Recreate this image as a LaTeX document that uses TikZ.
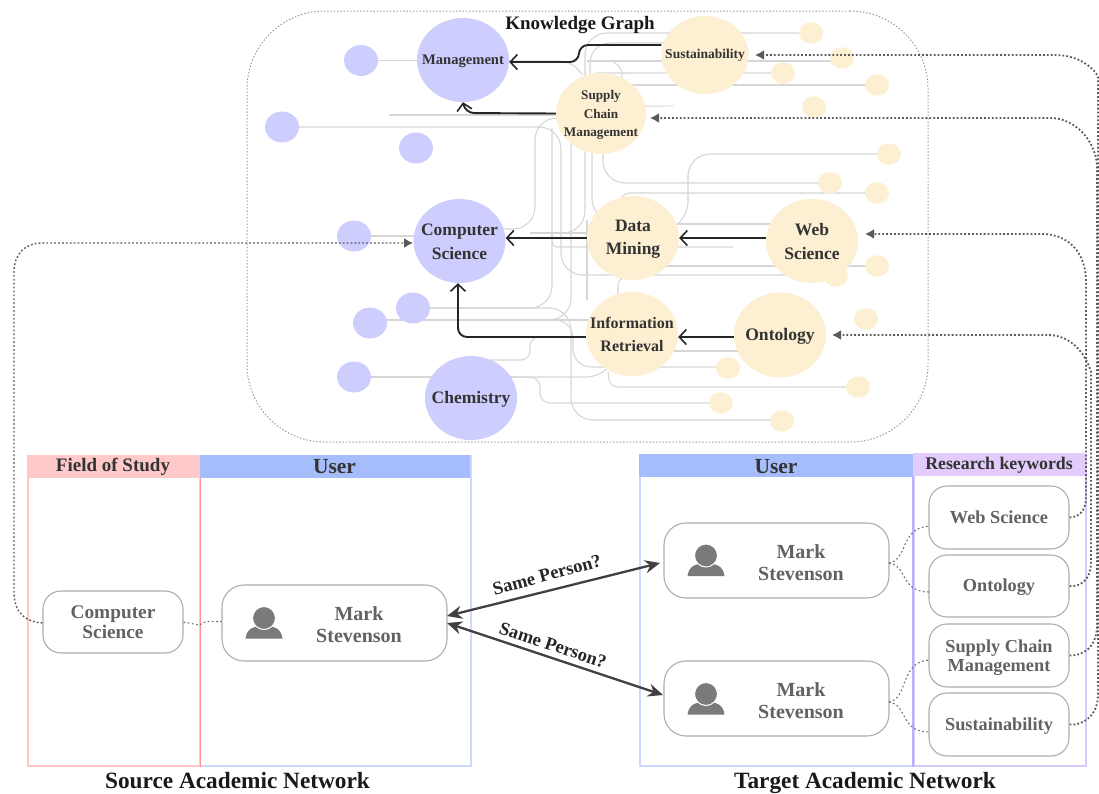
\documentclass[tikz,border=0pt]{standalone}
\usepackage{fontspec}
\setmainfont{Liberation Serif}
\usetikzlibrary{shapes.geometric,arrows.meta,calc}
\pgfdeclarelayer{bg}
\pgfsetlayers{bg,main}
\definecolor{purp}{HTML}{CDCEFD}
\definecolor{yel}{HTML}{FDEFD2}
\definecolor{wirec}{HTML}{D6D6D6}
\definecolor{txt}{HTML}{333333}
\definecolor{gtxt}{HTML}{626262}
\definecolor{dotc}{HTML}{5A5A5A}
\definecolor{hblue}{HTML}{A6BDFB}
\definecolor{bblue}{HTML}{CCD8FF}
\definecolor{hviol}{HTML}{E3CCFB}
\definecolor{bviol}{HTML}{D9C9FB}
\definecolor{hred}{HTML}{FFC9C9}
\definecolor{bred}{HTML}{FFC4C4}
\newcommand{\fsz}[2]{\fontsize{#1}{#2}\selectfont\bfseries}
\newcommand{\dn}[2]{\raisebox{-#1pt}[0pt][0pt]{#2}}
\tikzset{
  bigp/.style={ellipse,fill=purp,inner sep=0pt,minimum width=92pt,minimum height=84pt},
  bigy/.style={ellipse,fill=yel,inner sep=0pt,minimum width=92pt,minimum height=84pt},
  bigt/.style={inner sep=0pt,align=center,text=txt},
  smallp/.style={ellipse,fill=purp,inner sep=0pt,minimum width=34pt,minimum height=31pt},
  smally/.style={ellipse,fill=yel,inner sep=0pt,minimum width=24pt,minimum height=21.5pt},
  wire/.style={draw=wirec,line width=1.1pt,rounded corners=22pt},
  karrow/.style={draw=black!85,line width=1.9pt,rounded corners=9pt,-{Straight Barb[length=7pt,width=15pt,line width=1.6pt]}},
  dotarrow/.style={draw=dotc,line width=1.8pt,dash pattern=on 1.8pt off 2.1pt,-{Latex[length=9pt,width=10pt]}},
  thindot/.style={draw=dotc!85,line width=1.1pt,dash pattern=on 1.8pt off 2.4pt},
  rbox/.style={draw=black!32,line width=1.1pt,fill=white,rounded corners=18pt,inner sep=0pt,align=center,text=gtxt},
  column/.style={line width=1.6pt,inner sep=0pt,anchor=north west},
  head/.style={inner sep=0pt,anchor=center,text=txt},
  same/.style={draw=black!75,line width=2.3pt,{Stealth[length=15pt,width=13pt]}-{Stealth[length=15pt,width=13pt]}},
  person/.pic={
    \fill[black!52] (-18.5,20.5) -- (18.5,20.5) .. controls (17,10) and (10,8) .. (0,8) .. controls (-10,8) and (-17,10) .. (-18.5,20.5) -- cycle;
    \node[circle,fill=black!52,draw=white,line width=1pt,minimum size=23pt,inner sep=0pt] at (0,0) {};
  }
}
\begin{document}
\begin{tikzpicture}[x=1pt,y=-1pt]
\useasboundingbox (0,0) rectangle (1099,793);
% knowledge graph frame
\node[draw=black!40,line width=1pt,dash pattern=on 1.4pt off 1.9pt,rounded corners=78pt,minimum width=681pt,minimum height=431pt,inner sep=0pt] (kg) at (587.5,226.5) {};
% small nodes
\node[smallp] (p1) at (361,60.5) {};
\node[smallp] (p2) at (282,127) {};
\node[smallp] (p3) at (416,148) {};
\node[smallp] (p4) at (354,236) {};
\node[smallp] (p5) at (413,308) {};
\node[smallp] (p6) at (370,323) {};
\node[smallp] (p7) at (354,377) {};
\node[smally] (y1) at (811,33) {};
\node[smally] (y2) at (842,58) {};
\node[smally] (y3) at (783,73) {};
\node[smally] (y4) at (877,85) {};
\node[smally] (y5) at (814,107) {};
\node[smally] (y6) at (889,154) {};
\node[smally] (y7) at (830,183) {};
\node[smally] (y8) at (877,193) {};
\node[smally] (y9) at (877,266) {};
\node[smally] (y10) at (836,276) {};
\node[smally] (y11) at (866,319) {};
\node[smally] (y12) at (728,368) {};
\node[smally] (y13) at (858,387) {};
\node[smally] (y14) at (721,403) {};
\node[smally] (y15) at (782,421) {};
% big nodes
\node[bigp] (mg) at (463,60) {};
\node[bigp] (cs) at (459.5,241) {};
\node[bigp] (ch) at (471,398) {};
\node[bigy,minimum width=87pt,minimum height=78pt] (su) at (705,55) {};
\node[bigy,minimum width=90pt,minimum height=81pt] (sc) at (601,113.5) {};
\node[bigy] (dm) at (633,238) {};
\node[bigy] (ws) at (812,241) {};
\node[bigy] (ir) at (632,334) {};
\node[bigy,minimum height=85pt] (on) at (780,335) {};
\node[bigt,font=\fsz{14.6}{16}] (mgt) at (463,60.5) {\dn{4.4}{Management}};
\node[bigt,font=\fsz{17.5}{24}] (cst) at (459.5,242) {Computer\\Science};
\node[bigt,font=\fsz{17.5}{20}] (cht) at (471,398) {\dn{5.3}{Chemistry}};
\node[bigt,font=\fsz{13.5}{16}] (sut) at (705,54) {\dn{4}{Sustainability}};
\node[bigt,font=\fsz{13.2}{18.5}] (sct) at (601,115) {Supply\\Chain\\Management};
\node[bigt,font=\fsz{17.5}{23}] (dmt) at (633,239) {Data\\Mining};
\node[bigt,font=\fsz{17.5}{24}] (wst) at (812,242) {Web\\Science};
\node[bigt,font=\fsz{16}{22.5}] (irt) at (632,334.5) {Information\\Retrieval};
\node[bigt,font=\fsz{17.6}{20}] (ont) at (780,335) {\dn{5.3}{Ontology}};
\node[text=black!90,font=\fsz{19}{20}] (kgt) at (580,25) {Knowledge Graph};
\coordinate (dmend) at (733,247);
% grey wires
\begin{pgfonlayer}{bg}
\draw[wire] (p1.center) -- (mg.center |- p1.center);
\draw[wire,line width=1.5pt] (389,115) -- (sc.center |- 0,115);
\draw[wire] (p2.center) -- (561,127) -- (561,275) -- (y10.center |- 0,275);
\draw[wire] (cs.center) ++(40,-12) -- (535,229) -- (535,118) -- (sc.center |- 0,118);
\draw[wire] (p5.center) -- (552,308) -- (552,128);
\draw[wire,rounded corners=5pt] (552,232) -- (552,247) -- (dmend);
\draw[wire] (p6.center) ++(0,-3) -- (571,320) -- (571,120);
\draw[wire] (p5.center) -- (571,308) -- (571,420) -- (y15.center |- 0,420);
\draw[wire] (p6.center) ++(0,-3) -- (ir.center |- 0,320);
\draw[wire,rounded corners=18pt] (540,320) -- (573,320) -- (573,367) -- (y12.center |- 0,367);
\draw[wire] (p7.center) -- (ch.center |- p7.center);
\draw[wire,rounded corners=10pt] (ch.center) ++(0,-21) -- (597,377) -- (608,368);
\draw[wire,rounded corners=10pt] (ch.center) ++(30,-21) -- (540,377) -- (540,403) -- (y14.center);
\draw[wire,rounded corners=9pt] (490,360) -- (530,360) -- (530,337) -- (ir.center |- 0,337);
\draw[wire,rounded corners=8pt] (608,372) -- (610,387) -- (y13.center);
\draw[wire] (ir.center) ++(0,17) -- (745,351);
\draw[wire] (dm.center) ++(0,28) -- (y9.center);
\draw[wire] (p4.center) -- (cs.center |- p4.center);
\draw[wire] (dm.center) ++(-46,-5) -- (530,233);
\draw[wire] (587,220) -- (587,300);
\draw[wire,rounded corners=7pt] (618,300) -- (618,278) -- (630,278);
\draw[wire] (y1.center) -- (585,33) -- (585,233) -- (555,233);
\draw[wire,rounded corners=20pt] (su.center) ++(0,-12) -- (590,43) -- (590,90);
\draw[wire,rounded corners=16pt] (592,150) -- (592,215) -- (615,225);
\draw[wire,rounded corners=10pt] (mg.center) ++(0,1) -- (570,61) -- (583,75);
\draw[wire] (y2.center |- 0,61) -- (587,61);
\draw[wire,rounded corners=14pt] (587,61) -- (622,61) -- (622,85);
\draw[wire,rounded corners=8pt] (590,85) -- (590,73) -- (y3.center);
\draw[wire] (630,85) -- (y4.center);
\draw[wire,line width=.9pt] (sc.center) ++(0,-7) -- (674,106);
\draw[wire] (603,140) -- (603,183) -- (y7.center);
\draw[wire,rounded corners=10pt] (620,205) -- (620,193) -- (y8.center);
\draw[wire] (y6.center) -- (688,154) -- (688,224) -- (675,228);
\draw[wire] (dm.center |- 0,224) -- (ws.center |- 0,224);
\end{pgfonlayer}
% black arrows
\draw[karrow] (su.west) ++(0,-10) -- (579,45) -- (579,62) -- (mg.east |- 0,62);
\draw[karrow] (sc.west) -- (465,113) -- (mg.south);
\draw[karrow] (dm.west) -- (cs.east |- dm.west);
\draw[karrow] (ws.west |- dm.east) -- (dm.east);
\draw[karrow] (ir.west) ++(0,3) -- (458,337) -- (cs.south -| 458,0);
\draw[karrow] (on.west) ++(0,2) -- (ir.east |- 0,337);
% tables
\node[column,draw=bred,minimum width=172pt,minimum height=310pt] (fos) at (27,455) {};
\node[column,draw=bblue,minimum width=271pt,minimum height=310pt] (ul) at (199,455) {};
\node[column,draw=bblue,minimum width=274pt,minimum height=311pt] (ur) at (639,454) {};
\node[column,draw=bviol,minimum width=172pt,minimum height=311pt] (rk) at (913,454) {};
\draw[line width=1.6pt,draw=red!42] (fos.north east) -- (fos.south east);
\draw[line width=1.6pt,draw=blue!30] (rk.north west) -- (rk.south west);
\node[head,fill=hred,minimum width=172pt,minimum height=23pt,font=\fsz{19}{20}] (h1) at (113,466.5) {\dn{5.2}{Field of Study}};
\node[head,fill=hblue,minimum width=270pt,minimum height=23pt,font=\fsz{21.5}{22}] (h2) at (334.5,466.5) {\dn{7}{User}};
\node[head,fill=hblue,minimum width=274pt,minimum height=23pt,font=\fsz{21.5}{22}] (h3) at (776,465.5) {\dn{8}{User}};
\node[head,fill=hviol,minimum width=172pt,minimum height=23pt,font=\fsz{17.8}{20}] (h4) at (999,464.5) {\dn{4.8}{Research keywords}};
% rounded boxes
\node[rbox,minimum width=140pt,minimum height=62pt,font=\fsz{19.3}{20.5}] (bcs) at (113,622) {Computer\\Science};
\node[rbox,minimum width=225pt,minimum height=76pt,rounded corners=22pt] (ml) at (334.5,623) {};
\node[text=gtxt,align=center,font=\fsz{20}{22}] (mlt) at (359,625) {Mark\\Stevenson};
\node[rbox,minimum width=225pt,minimum height=75pt,rounded corners=22pt] (m1) at (776.5,560.5) {};
\node[text=gtxt,align=center,font=\fsz{20}{22}] (m1t) at (801,563) {Mark\\Stevenson};
\node[rbox,minimum width=225pt,minimum height=75pt,rounded corners=22pt] (m2) at (776.5,698.5) {};
\node[text=gtxt,align=center,font=\fsz{20}{22}] (m2t) at (801,701) {Mark\\Stevenson};
\pic at (264,618) {person};
\pic at (706,555.5) {person};
\pic at (706,694) {person};
\node[rbox,minimum width=140pt,minimum height=63pt,font=\fsz{18.3}{20}] (k1) at (999,517.5) {Web Science};
\node[rbox,minimum width=140pt,minimum height=62pt,font=\fsz{18.3}{20}] (k2) at (999,586) {\dn{5.5}{Ontology}};
\node[rbox,minimum width=140pt,minimum height=63pt] (k3) at (999,655.5) {};
\node[text=gtxt,align=center,inner sep=0pt,font=\fsz{18.3}{19}] (k3t) at (999,657.5) {Supply Chain\\Management};
\node[rbox,minimum width=140pt,minimum height=63pt,font=\fsz{18.3}{20}] (k4) at (999,724.5) {\dn{6}{Sustainability}};
% thin dotted connectors
\coordinate (k1a) at (929,526);
\coordinate (k2a) at (929,592);
\coordinate (k3a) at (929,660);
\coordinate (k4a) at (929,732);
\coordinate (m1a) at (889,563);
\coordinate (m2a) at (889,702);
\draw[thindot] (m1a) .. controls (908,560) and (900,528) .. (k1a);
\draw[thindot] (m1a) .. controls (908,566) and (900,592) .. (k2a);
\draw[thindot] (m2a) .. controls (908,699) and (900,662) .. (k3a);
\draw[thindot] (m2a) .. controls (908,705) and (900,732) .. (k4a);
\draw[thindot] (bcs.east) -- (199,625) -- (206,621.5) -- (ml.west |- 0,621.5);
% long dotted arrows
\coordinate (csin) at (413,243);
\coordinate (suin) at (755,55);
\coordinate (scin) at (650,118);
\coordinate (wsin) at (865,234);
\coordinate (onin) at (832,335);
\draw[dotarrow,line width=1.4pt] (bcs.west) ++(0,1) .. controls (28,622) and (14,615) .. (14,592) -- (14,272) .. controls (14,254) and (25,243) .. (42,243) -- (csin);
\draw[dotarrow] (k1.east) .. controls (1078,517) and (1086,512) .. (1086,497) -- (1086,282) .. controls (1086,252) and (1068,234) .. (1042,234) -- (wsin);
\draw[dotarrow] (k2.east) .. controls (1080,587) and (1091,580) .. (1091,562) -- (1091,372) .. controls (1085,352) and (1070,335) .. (1048,335) -- (onin);
\draw[dotarrow] (k3.east) .. controls (1082,656) and (1097,648) .. (1097,625) -- (1097,165) .. controls (1095,140) and (1075,118) .. (1050,118) -- (scin);
\draw[dotarrow] (k4.east) .. controls (1082,726) and (1098,716) .. (1098,695) -- (1098,76) .. controls (1090,64) and (1075,55) .. (1055,55) -- (suin);
% same person arrows
\coordinate (mla) at (447,616);
\coordinate (mlb) at (447,623);
\coordinate (m1b) at (660,563);
\coordinate (m2b) at (663,695);
\draw[same] (mla) -- (m1b);
\draw[same] (mlb) -- (m2b);
\node[rotate=15,text=black!85,font=\fsz{18.5}{20}] (sp1) at (547,575) {Same Person?};
\node[rotate=-18.5,text=black!85,font=\fsz{18.5}{20}] (sp2) at (553,645) {Same Person?};
% captions
\node[text=black!90,anchor=base,font=\fsz{23.3}{24}] (c1) at (237.5,788) {Source Academic Network};
\node[text=black!90,anchor=base,font=\fsz{23.3}{24}] (c2) at (865,788) {Target Academic Network};
\end{tikzpicture}
\end{document}
